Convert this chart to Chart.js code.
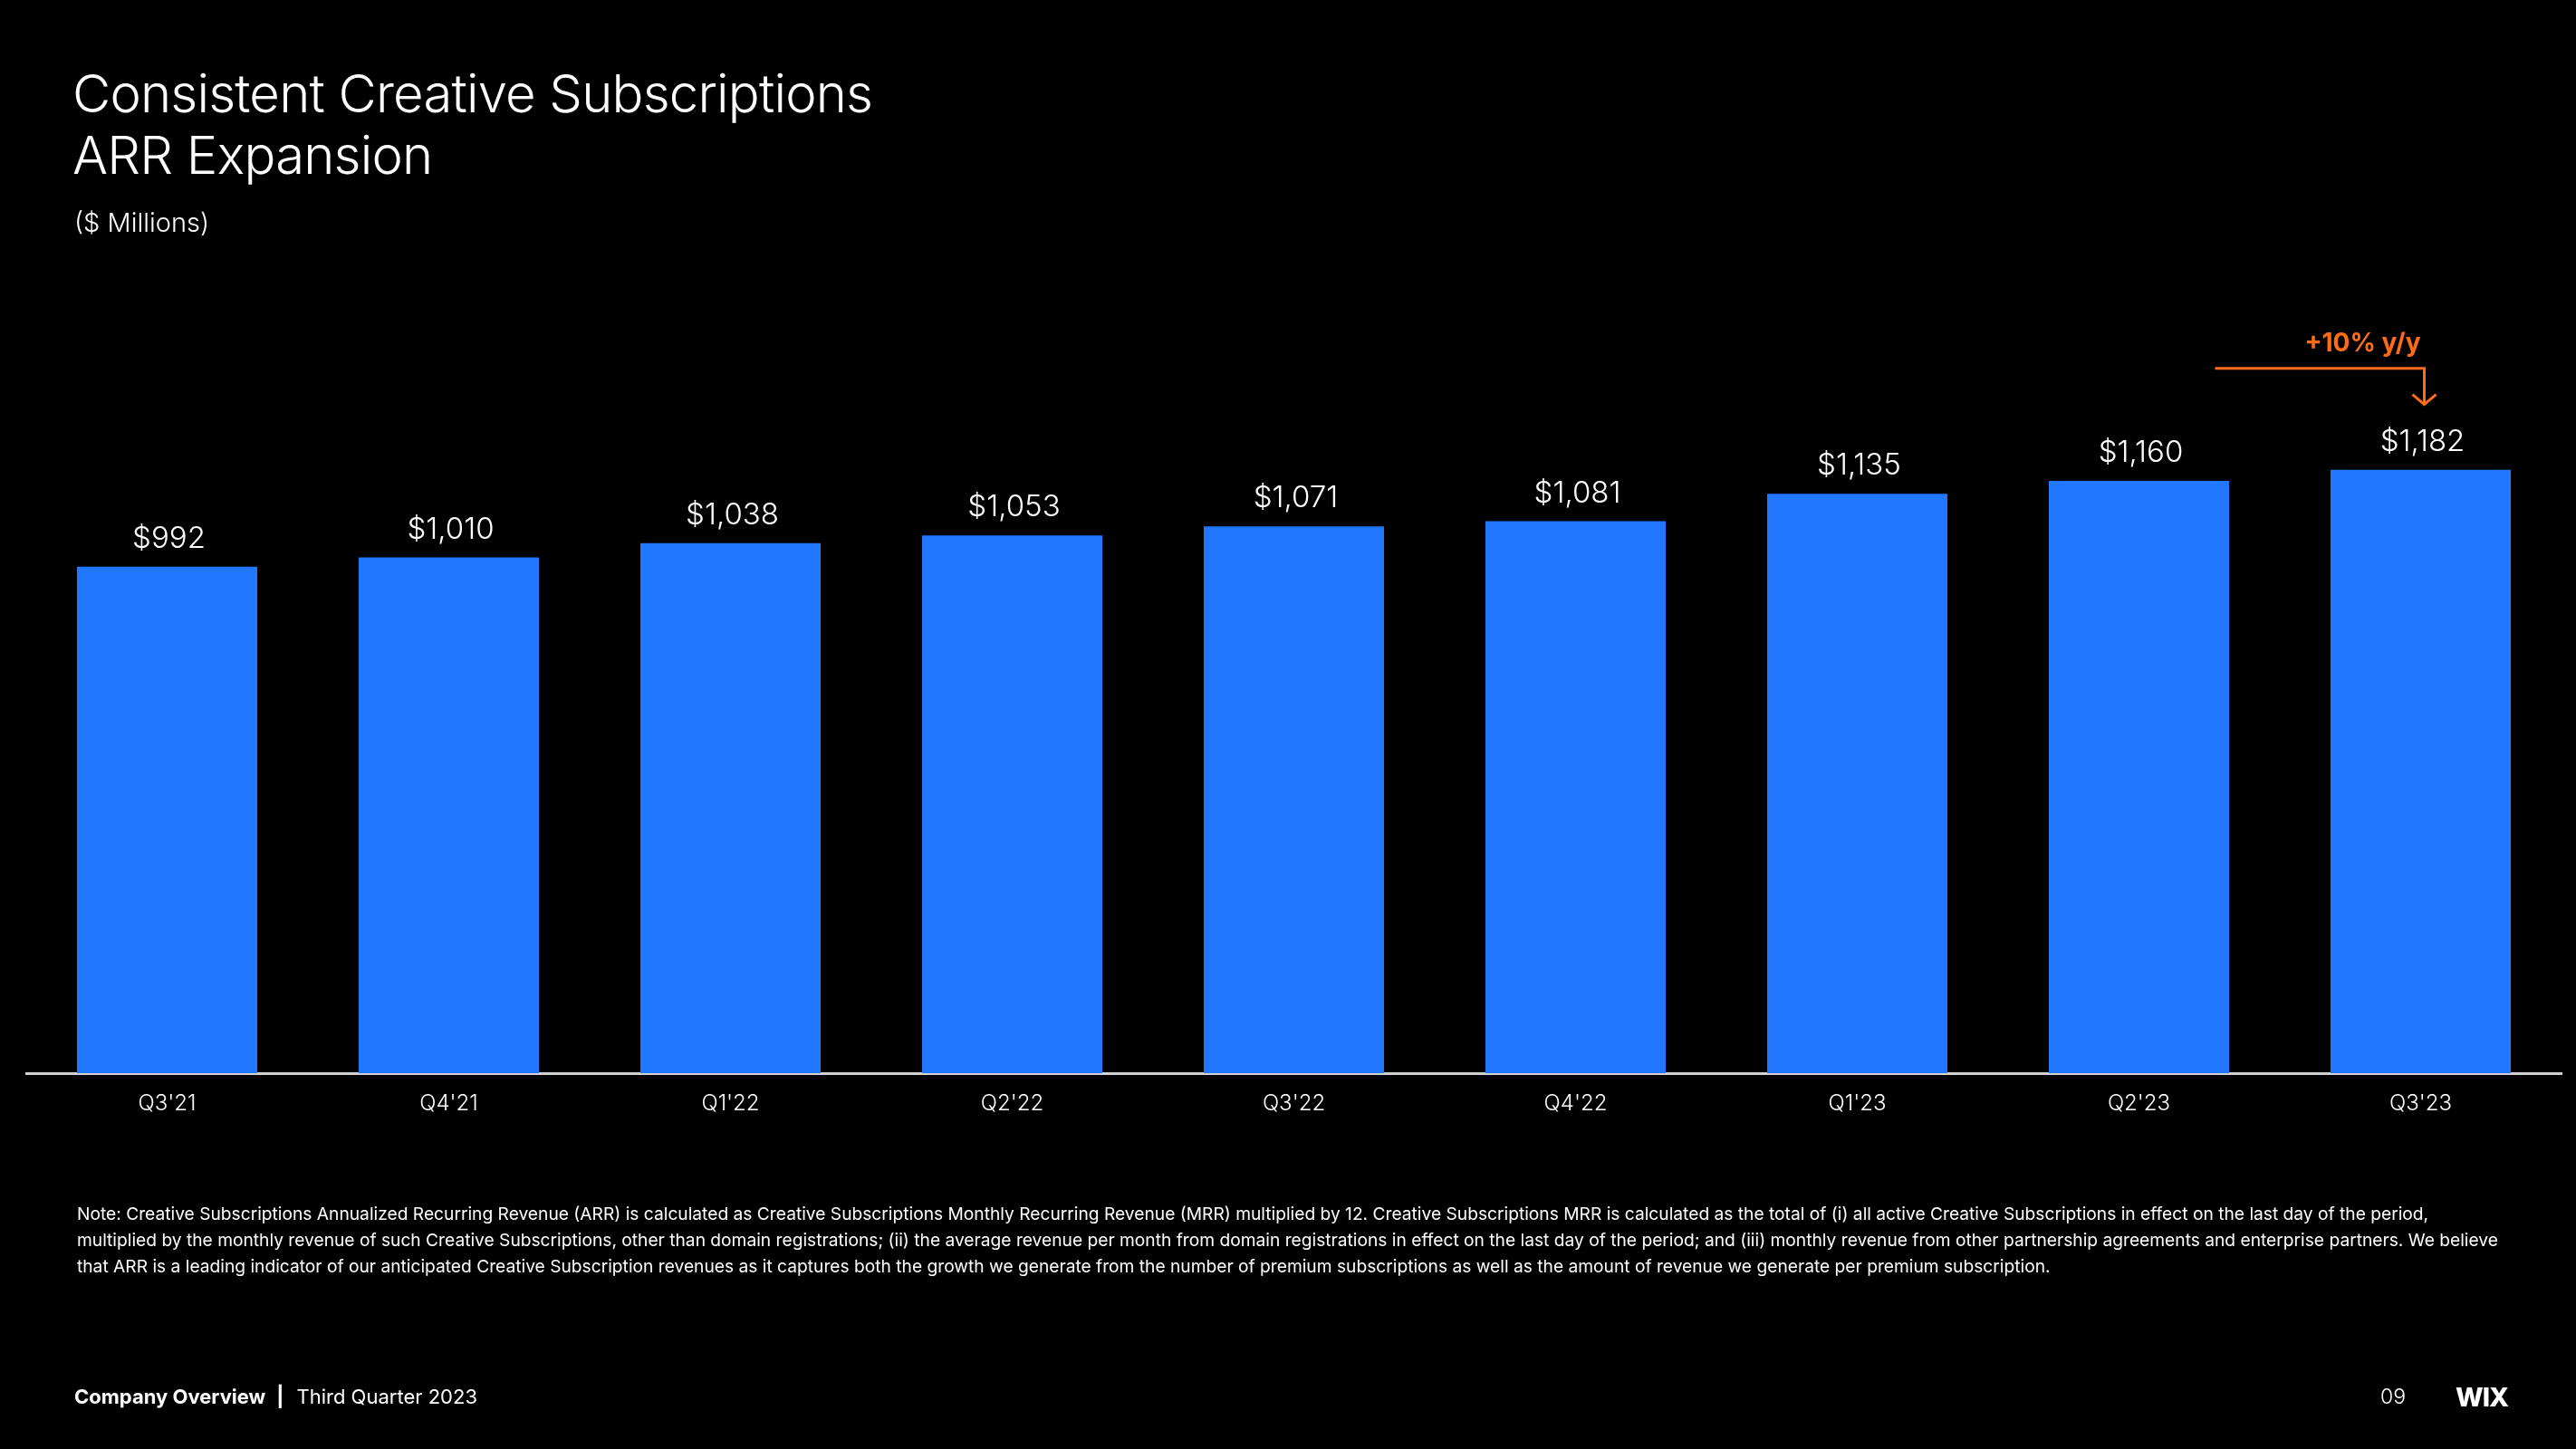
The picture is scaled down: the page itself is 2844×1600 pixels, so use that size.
<!DOCTYPE html>
<html>
<head>
<meta charset="utf-8">
<script src="https://cdn.jsdelivr.net/npm/chart.js@4.4.0/dist/chart.umd.min.js"></script>
<style>
  html, body { margin: 0; padding: 0; background: #000; }
  body { width: 2844px; height: 1600px; position: relative; overflow: hidden; font-family: "Inter", "Lato", sans-serif; color: #fff; }
  #wrap { position: absolute; left: 0; top: 0; width: 2844px; height: 1600px; }
  .txt { position: absolute; white-space: nowrap; }
  #title { left: 80px; top: 69px; font-size: 58px; font-weight: 300; line-height: 68px; letter-spacing: -0.8px; }
  #unit { left: 82px; top: 228px; font-size: 29px; font-weight: 300; }
  #note { left: 85px; top: 1326px; font-size: 19.2px; line-height: 29px; font-weight: 400; }
  #foot { left: 82px; top: 1529px; font-size: 22px; }
  #foot b { font-weight: 700; }
  #foot .bar { display: inline-block; font-weight: 700; margin: 0 14px 0 12px; }
  #page { left: 2628px; top: 1528px; font-size: 23px; font-weight: 300; }
  #logo { left: 2711px; top: 1525px; font-size: 29px; font-weight: 800; letter-spacing: -1px; }
</style>
</head>
<body>
<div id="wrap"><canvas id="arrChart" width="2844" height="1600"></canvas></div>
<div class="txt" id="title">Consistent Creative Subscriptions<br>ARR Expansion</div>
<div class="txt" id="unit">($ Millions)</div>
<div class="txt" id="note">
Note: Creative Subscriptions Annualized Recurring Revenue (ARR) is calculated as Creative Subscriptions Monthly Recurring Revenue (MRR) multiplied by 12. Creative Subscriptions MRR is calculated as the total of (i) all active Creative Subscriptions in effect on the last day of the period,<br>
multiplied by the monthly revenue of such Creative Subscriptions, other than domain registrations; (ii) the average revenue per month from domain registrations in effect on the last day of the period; and (iii) monthly revenue from other partnership agreements and enterprise partners. We believe<br>
that ARR is a leading indicator of our anticipated Creative Subscription revenues as it captures both the growth we generate from the number of premium subscriptions as well as the amount of revenue we generate per premium subscription.
</div>
<div class="txt" id="foot"><b>Company Overview</b><span class="bar">|</span>Third Quarter 2023</div>
<div class="txt" id="page">09</div>
<div class="txt" id="logo">WIX</div>
<script>
// Quarters and ARR values ($ millions)
var quarters = ["Q3'21", "Q4'21", "Q1'22", "Q2'22", "Q3'22", "Q4'22", "Q1'23", "Q2'23", "Q3'23"];
var arrValues = [992, 1010, 1038, 1053, 1071, 1081, 1135, 1160, 1182];
var growthLabel = "+10% y/y";

// Draw "$1,234" labels above each bar
var valueLabels = {
  id: "valueLabels",
  afterDatasetsDraw: function(chart) {
    var ctx = chart.ctx;
    var meta = chart.getDatasetMeta(0);
    ctx.save();
    ctx.fillStyle = "#ffffff";
    ctx.font = "300 33px Inter";
    ctx.textAlign = "center";
    ctx.textBaseline = "alphabetic";
    meta.data.forEach(function(bar, i) {
      ctx.fillText("$" + arrValues[i].toLocaleString("en-US"), bar.x + 2, bar.y - 21);
    });
    ctx.restore();
  }
};

// Orange y/y callout pointing at the last bar
var growthCallout = {
  id: "growthCallout",
  afterDatasetsDraw: function(chart) {
    var ctx = chart.ctx;
    var meta = chart.getDatasetMeta(0);
    var last = meta.data[meta.data.length - 1];
    var x = last.x + 4;
    var top = last.y;
    var orange = "#ff6b17";
    ctx.save();
    ctx.strokeStyle = orange;
    ctx.lineWidth = 3;
    ctx.beginPath();
    ctx.moveTo(x - 231, top - 112);
    ctx.lineTo(x, top - 112);
    ctx.lineTo(x, top - 72);
    ctx.stroke();
    ctx.beginPath();
    ctx.moveTo(x - 13, top - 83);
    ctx.lineTo(x, top - 72);
    ctx.lineTo(x + 13, top - 83);
    ctx.stroke();
    ctx.fillStyle = orange;
    ctx.font = "700 28px Inter";
    ctx.textAlign = "center";
    ctx.textBaseline = "middle";
    ctx.fillText(growthLabel, x - 68, top - 139);
    ctx.restore();
  }
};

var ctx = document.getElementById("arrChart").getContext("2d");
var arrChart = new Chart(ctx, {
  type: "bar",
  data: {
    labels: quarters,
    datasets: [{
      data: arrValues,
      backgroundColor: "#2277ff",
      barPercentage: 0.64,
      categoryPercentage: 1.0
    }]
  },
  options: {
    responsive: false,
    animation: false,
    layout: {
      padding: { left: 29, right: 16, top: 283, bottom: 355 }
    },
    plugins: {
      legend: { display: false },
      tooltip: { enabled: false }
    },
    scales: {
      x: {
        grid: { display: false, drawTicks: false },
        border: { display: true, color: "#d2d2d2", width: 3 },
        ticks: {
          color: "#ffffff",
          font: { family: "Inter", size: 24, weight: 300 },
          padding: 19
        },
        afterFit: function(scale) {
          scale.height = 60; // keep the axis line at a fixed height
        }
      },
      y: {
        display: false,
        min: 0,
        max: 1600
      }
    }
  },
  plugins: [valueLabels, growthCallout]
});
</script>
</body>
</html>
